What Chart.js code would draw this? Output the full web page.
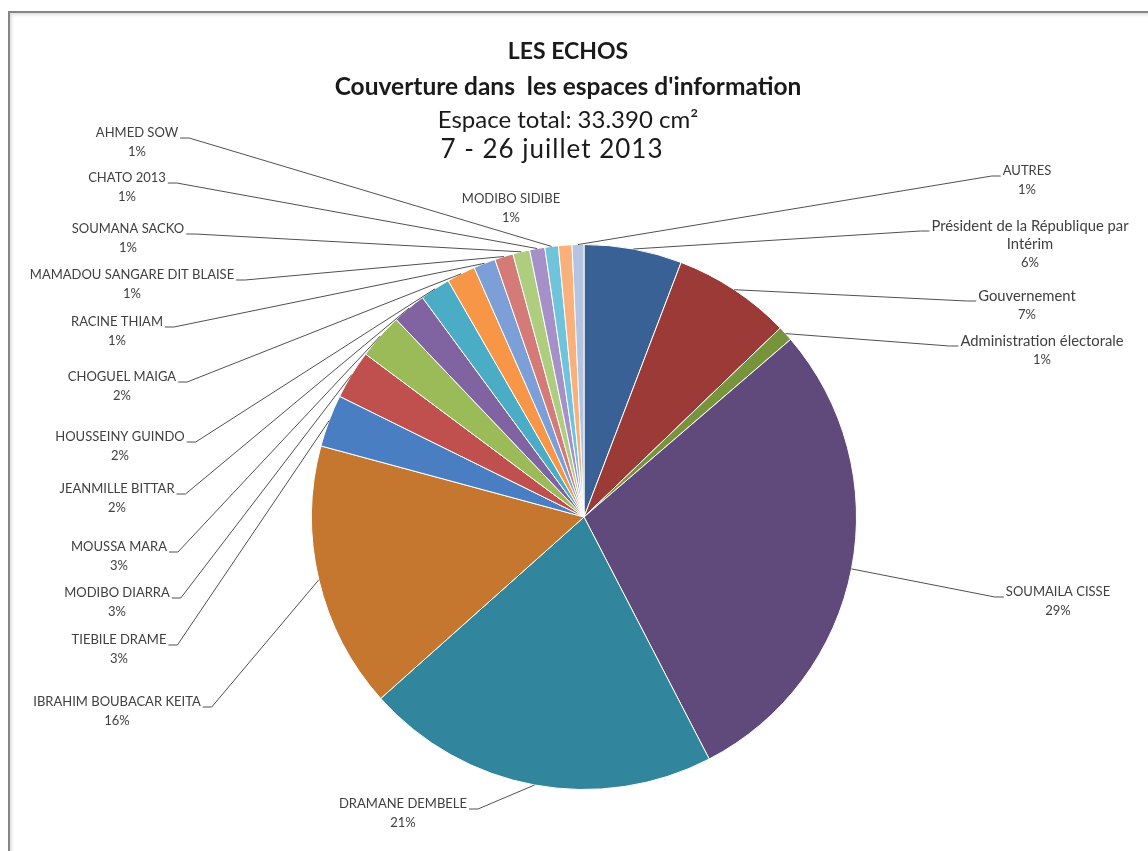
<!DOCTYPE html>
<html>
<head>
<meta charset="utf-8">
<script src="https://cdn.jsdelivr.net/npm/chart.js@4.4.0/dist/chart.umd.min.js"></script>
<style>
  html, body { margin: 0; padding: 0; background: #fff; }
  #wrap { position: relative; width: 1148px; height: 851px; overflow: hidden; }
  #frame {
    position: absolute; left: 8px; top: 11px; right: -10px; bottom: -10px;
    border-top: 2px solid #858585; border-left: 2px solid #858585;
    box-shadow: inset 2px 2px 3px rgba(0, 0, 0, 0.12);
  }
  canvas { position: absolute; left: 0; top: 0; }
</style>
</head>
<body>
<div id="wrap">
  <div id="frame"></div>
  <canvas id="pieChart" width="1148" height="851"></canvas>
</div>
<script>
// data, clockwise from 12 o'clock
const categories = [
  'Président de la République par Intérim',
  'Gouvernement',
  'Administration électorale',
  'SOUMAILA CISSE',
  'DRAMANE DEMBELE',
  'IBRAHIM BOUBACAR KEITA',
  'TIEBILE DRAME',
  'MODIBO DIARRA',
  'MOUSSA MARA',
  'JEANMILLE BITTAR',
  'HOUSSEINY GUINDO',
  'CHOGUEL MAIGA',
  'RACINE THIAM',
  'MAMADOU SANGARE DIT BLAISE',
  'SOUMANA SACKO',
  'CHATO 2013',
  'AHMED SOW',
  'MODIBO SIDIBE',
  'AUTRES'
];
// share of the 33.390 cm² (percent)
const shares = [5.8, 7.0, 0.9, 28.7, 21.0, 15.8, 3.1, 2.9, 2.7, 2.0, 1.8, 1.7, 1.3, 1.1, 1.0, 0.9, 0.8, 0.8, 0.7];
const sliceColors = [
  '#3a6196', '#9b3a37', '#77933c', '#604a7b', '#31859c', '#c5772f',
  '#4a7ec2', '#c0504d', '#9bbb59', '#8064a2', '#4bacc6', '#f79646',
  '#7c9fd8', '#d47b78', '#aecd7e', '#a590c8', '#6fc3da', '#f9b07a', '#b4c4e0'
];
const titleLines = [
  'LES ECHOS',
  "Couverture dans  les espaces d'information",
  'Espace total: 33.390 cm²',
  '7 - 26 juillet 2013'
];

// layout of the labels: [centre x, first line y, side]
const labelSpots = [
  [1030, 226, 'R'], [1027, 296, 'R'], [1042, 341, 'R'], [1058, 592, 'R'],
  [403, 804, 'L'], [117, 702, 'L'], [119, 640, 'L'], [117, 593, 'L'],
  [119, 547, 'L'], [117, 489, 'L'], [120, 437, 'L'], [122, 377, 'L'],
  [117, 322, 'L'], [132, 275, 'L'], [128, 229, 'L'], [127, 178, 'L'],
  [137, 133, 'L'], [511, 199, 'T'], [1027, 171, 'R']
];
// [centre x, baseline, font, letter spacing]
const titleSpots = [
  [568, 59, 'bold 23px Lato', '0px'],
  [568, 95, 'bold 24.5px Lato', '0px'],
  [568, 128, '24px Lato', '0px'],
  [552, 158, '26px Lato', '1px']
];
const capsFont = '13px Lato';
const mixedFont = '14.8px Lato';
const lineGap = 18.5;

function wrapText(ctx, text, maxWidth) {
  const words = text.split(' ');
  const out = [];
  let cur = '';
  words.forEach(w => {
    const next = cur ? cur + ' ' + w : w;
    if (cur && ctx.measureText(next).width > maxWidth) {
      out.push(cur);
      cur = w;
    } else {
      cur = next;
    }
  });
  if (cur) out.push(cur);
  return out;
}

const calloutPlugin = {
  id: 'callouts',
  afterDatasetsDraw(chart) {
    const ctx = chart.ctx;
    const meta = chart.getDatasetMeta(0);
    const total = shares.reduce((a, b) => a + b, 0);
    ctx.save();
    ctx.textAlign = 'center';
    ctx.textBaseline = 'middle';
    ctx.fillStyle = '#404040';
    ctx.strokeStyle = '#505050';
    ctx.lineWidth = 1;
    meta.data.forEach((arc, i) => {
      const [lx, ly, side] = labelSpots[i];
      const p = arc.getProps(['x', 'y', 'startAngle', 'endAngle', 'outerRadius'], true);
      const mid = (p.startAngle + p.endAngle) / 2;
      const ax = p.x + Math.cos(mid) * p.outerRadius;
      const ay = p.y + Math.sin(mid) * p.outerRadius;
      const name = categories[i];
      ctx.font = name === name.toUpperCase() ? capsFont : mixedFont;
      const lines = wrapText(ctx, name, side === 'R' ? 215 : 400);
      lines.forEach((t, k) => ctx.fillText(t, lx, ly + k * lineGap));
      const w = ctx.measureText(lines[0]).width;
      ctx.font = capsFont;
      ctx.fillText(Math.round(shares[i] / total * 100) + '%', lx, ly + lines.length * lineGap);
      if (side === 'T') return;
      const by = ly + 5;
      const ex = side === 'L' ? lx + w / 2 + 2 : lx - w / 2 - 2;
      const kx = side === 'L' ? ex + 9 : ex - 9;
      ctx.beginPath();
      ctx.moveTo(ex, by);
      ctx.lineTo(kx, by);
      ctx.lineTo(ax, ay);
      ctx.stroke();
    });

    // title block
    ctx.fillStyle = '#1a1a1a';
    ctx.textBaseline = 'alphabetic';
    titleLines.forEach((t, k) => {
      const [tx, ty, font, spacing] = titleSpots[k];
      ctx.font = font;
      ctx.letterSpacing = spacing;
      ctx.fillText(t, tx, ty);
    });
    ctx.letterSpacing = '0px';
    ctx.restore();
  }
};

function buildChart() {
  const ctx = document.getElementById('pieChart');
  new Chart(ctx, {
    type: 'pie',
    data: {
      labels: categories,
      datasets: [{
        data: shares,
        backgroundColor: sliceColors,
        borderColor: '#ffffff',
        borderWidth: 1
      }]
    },
    options: {
      responsive: false,
      animation: false,
      layout: { padding: { left: 311, right: 291, top: 244, bottom: 61 } },
      plugins: {
        legend: { display: false },
        tooltip: { enabled: false },
        title: { display: false }
      }
    },
    plugins: [calloutPlugin]
  });
}

Promise.all([
  document.fonts.load('13px Lato'),
  document.fonts.load('bold 22px Lato')
]).then(buildChart, buildChart);
</script>
</body>
</html>
